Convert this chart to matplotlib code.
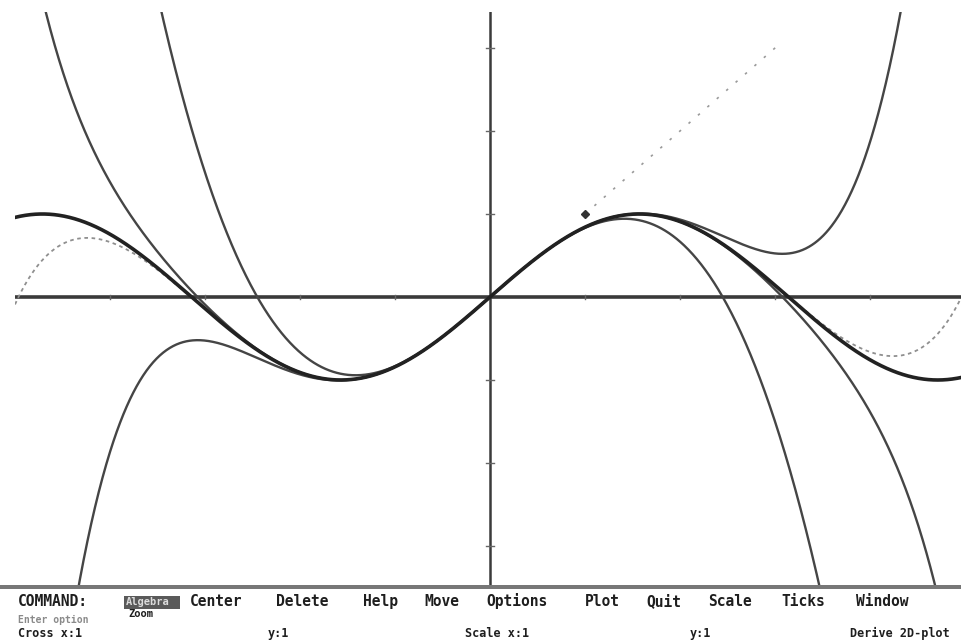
import numpy as np
import matplotlib
matplotlib.use("Agg")
import matplotlib.pyplot as plt
from matplotlib.patches import Rectangle

# ---- data: sin(x) and its Maclaurin polynomials (coefficients of x^k) ----
maclaurin_coeffs = [0, 1, 0, -1/6, 0, 1/120, 0, -1/5040, 0, 1/362880]
solid_degrees = [3, 5, 7]       # Taylor polynomials drawn solid
dotted_degree = 9               # Taylor polynomial drawn dotted
line_range = [1.0, 3.05]        # visible part of the dotted y = x line
cursor_point = [1, 1]           # Derive cross position
x_ticks = [-4, -3, -2, -1, 1, 2, 3, 4]
y_ticks = [-3, -2, -1, 1, 2, 3]

menu_words = ["Center", "Delete", "Help", "Move", "Options", "Plot",
              "Quit", "Scale", "Ticks", "Window"]
status_items = ["Cross x:1", "y:1", "Scale x:1", "y:1", "Derive 2D-plot"]

W, H = 961, 643
fig = plt.figure(figsize=(W / 100, H / 100), dpi=100)
fig.patch.set_facecolor("white")

# plot area in pixels
ox, oy = 490, 297         # origin pixel
sx, sy = 95.0, 83.0       # pixels per unit
left_px, right_px, top_px, bot_px = 15, 961, 12, 585
ax = fig.add_axes([left_px / W, (H - bot_px) / H,
                   (right_px - left_px) / W, (bot_px - top_px) / H])
ax.set_xlim((left_px - ox) / sx, (right_px - ox) / sx)
ax.set_ylim(-(bot_px - oy) / sy, (oy - top_px) / sy)
ax.axis("off")

x = np.linspace((left_px - ox) / sx, (right_px - ox) / sx, 2000)

def taylor(deg, xs):
    return np.polynomial.polynomial.polyval(xs, maclaurin_coeffs[:deg + 1])

# axes
ax.axhline(0, color="#3a3a3a", lw=2.6, zorder=1)
ax.axvline(0, color="#3a3a3a", lw=1.8, zorder=1)
tx = 4 / sy
for t in x_ticks:
    ax.plot([t, t], [-tx * 0.6, tx * 0.6], color="#666666", lw=1.0, zorder=1)
ty = 4 / sx
for t in y_ticks:
    ax.plot([-ty, ty], [t, t], color="#666666", lw=1.0, zorder=1)

# curves
for d in solid_degrees:
    ax.plot(x, taylor(d, x), color="#454545", lw=1.7, zorder=2)
ax.plot(x, taylor(dotted_degree, x), color="#8f8f8f", lw=1.3,
        linestyle=(0, (2, 2)), zorder=2)
ax.plot(x, np.sin(x), color="#222222", lw=2.6, zorder=3)
xl = np.linspace(line_range[0], line_range[1], 50)
ax.plot(xl, xl, color="#9a9a9a", lw=1.2, linestyle=(0, (1.5, 6)), zorder=2)
ax.plot(cursor_point[0], cursor_point[1], marker="D", ms=4,
        color="#333333", zorder=4)

# ---- bottom command area ----
fig.add_artist(Rectangle((0, (H - 589) / H), 1, 4 / H, transform=fig.transFigure,
                         color="#777777", lw=0))

def px(xp, yp):
    return xp / W, (H - yp) / H

mono = dict(family="DejaVu Sans Mono", fontweight="bold", fontsize=10.5,
            color="#1e1e1e", va="baseline", ha="left")

fig.text(*px(18, 606), "COMMAND:", **mono)
fig.add_artist(Rectangle(px(124, 609), 56 / W, 13 / H, transform=fig.transFigure,
                         color="#5a5a5a", lw=0))
fig.text(*px(126, 605), "Algebra", family="DejaVu Sans Mono", fontweight="bold",
         fontsize=7.5, color="#dddddd", va="baseline", ha="left")
pitch = 12.33
xcur = 190
for wd in menu_words:
    fig.text(*px(xcur, 606), wd, **mono)
    xcur += (len(wd) + 1) * pitch

fig.text(*px(128, 617), "Zoom", **{**mono, "fontsize": 7.5})
fig.text(*px(18, 623), "Enter option", **{**mono, "fontsize": 7, "color": "#8a8a8a"})
status_x = [18, 268, 465, 690, 850]
for sxp, s in zip(status_x, status_items):
    fig.text(*px(sxp, 637), s, **{**mono, "fontsize": 8.5})

fig.savefig("out.png", dpi=100, facecolor="white")
